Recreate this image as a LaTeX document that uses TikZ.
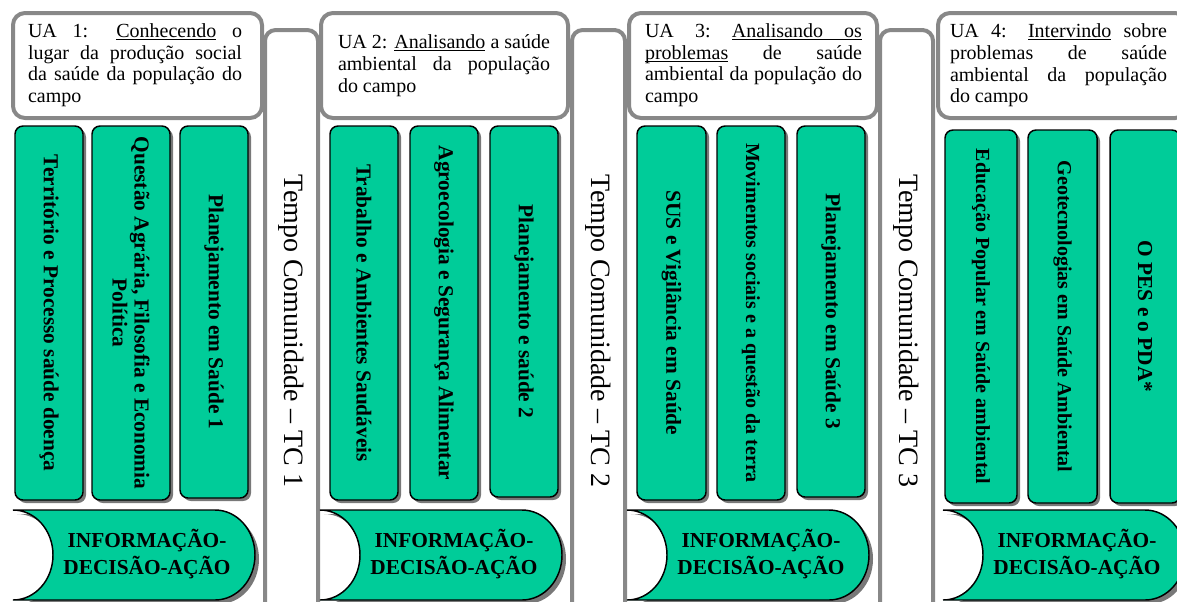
\documentclass[tikz,border=0pt]{standalone}
\usepackage{fontspec}
\setmainfont{Liberation Serif}
\definecolor{tealgreen}{RGB}{0,204,153}
\definecolor{framegray}{RGB}{136,136,136}
\definecolor{shadowgray}{RGB}{120,120,120}
\tikzset{
  uabox/.style={draw=framegray, line width=3pt, fill=white, rounded corners=9pt},
  tccol/.style={draw=framegray, line width=3pt, fill=white, rounded corners=8pt},
  uatext/.style={inner sep=0pt, align=left, font=\fontsize{15}{16.3}\selectfont},
  tctext/.style={inner sep=0pt, rotate=-90, font=\fontsize{21}{24}\selectfont},
  gcol/.style={draw=black, line width=1.1pt, fill=tealgreen, rounded corners=6pt, inner sep=0pt, align=center, rotate=-90},
  gshadow/.style={fill=shadowgray, rounded corners=6pt},
  bannershape/.style={draw=black, line width=1.1pt, fill=tealgreen},
  bannertext/.style={inner sep=0pt, align=center, font=\bfseries\fontsize{16}{20}\selectfont},
}
\newcommand{\undl}[1]{\underline{\smash{#1}}}
\newcommand{\greencol}[7][16]{%
  \pgfmathsetmacro\mycolw{(#4-#3)*0.75}%
  \pgfmathsetmacro\mycolh{(#6-#5)*0.75}%
  \fill[gshadow] ({#3+3},{#5+3}) rectangle ({#4+3},{#6+3});
  \node[gcol, minimum width=\mycolh pt, minimum height=\mycolw pt, font=\bfseries\fontsize{#1}{16.5}\selectfont] (#2) at ({(#3+#4)/2},{(#5+#6)/2}) {#7};
}
\newcommand{\drawbanner}[2]{%
  \fill[shadowgray, shift={(4,4)}] (#1,510) -- ({#1+202},510) .. controls ({#1+224},510) and ({#1+242},530) .. ({#1+242},555) .. controls ({#1+242},580) and ({#1+224},600) .. ({#1+202},600) -- (#1,600) .. controls ({#1+22},600) and ({#1+40},580) .. ({#1+40},555) .. controls ({#1+40},530) and ({#1+22},510) .. (#1,510) -- cycle;
  \draw[bannershape] (#1,510) -- ({#1+202},510) .. controls ({#1+224},510) and ({#1+242},530) .. ({#1+242},555) .. controls ({#1+242},580) and ({#1+224},600) .. ({#1+202},600) -- (#1,600) .. controls ({#1+22},600) and ({#1+40},580) .. ({#1+40},555) .. controls ({#1+40},530) and ({#1+22},510) .. (#1,510) -- cycle;
  \node[bannertext] (#2) at ({#1+134},554) {INFORMAÇÃO-\\DECISÃO-AÇÃO};
}
\begin{document}
\begin{tikzpicture}[x=0.75pt,y=-0.75pt]
\useasboundingbox (0,0) rectangle (1177,601);
\clip (0,0) rectangle (1177,601);
\fill[white] (0,0) rectangle (1177,601);

% Tempo Comunidade columns
\draw[tccol] (265,30) rectangle (318,650);
\node[tctext] (tc1) at (291.5,331) {Tempo Comunidade – TC 1};
\draw[tccol] (572,30) rectangle (625,650);
\node[tctext] (tc2) at (598.5,331) {Tempo Comunidade – TC 2};
\draw[tccol] (880,30) rectangle (933,650);
\node[tctext] (tc3) at (906.5,331) {Tempo Comunidade – TC 3};

% UA title boxes
\draw[uabox] (13,13) rectangle (262,118);
\node[uatext] (ua1) at (135,65.5) {\makebox[160.5pt][s]{UA 1: \undl{Conhecendo} o}\\\makebox[160.5pt][s]{lugar da produção social}\\\makebox[160.5pt][s]{da saúde da população do}\\campo};
\draw[uabox] (321,13) rectangle (568,118);
\node[uatext] (ua2) at (444,65.5) {\makebox[159pt][s]{UA 2: \undl{Analisando} a saúde}\\\makebox[159pt][s]{ambiental da população}\\do campo};
\draw[uabox] (629,13) rectangle (877,118);
\node[uatext] (ua3) at (753.5,65.5) {\makebox[162.75pt][s]{UA\hfill 3:\hfill\undl{\makebox[97.5pt][s]{Analisando\hfill os}}}\\\makebox[162.75pt][s]{\undl{problemas} de saúde}\\\makebox[162.75pt][s]{ambiental da população do}\\campo};
\draw[uabox] (938,13) rectangle (1187,118);
\node[uatext] (ua4) at (1058.5,65.5) {\makebox[162.75pt][s]{UA 4: \undl{Intervindo} sobre}\\\makebox[162.75pt][s]{problemas de saúde}\\\makebox[162.75pt][s]{ambiental da população}\\do campo};

% green columns
\greencol{c11}{15}{83}{126}{500}{Território e Processo saúde doença}
\greencol{c12}{92}{170}{126}{500}{Questão Agrária, Filosofia e Economia\\Política}
\greencol{c13}{180}{248}{126}{498}{Planejamento em Saúde 1}
\greencol{c21}{330}{398}{126}{500}{Trabalho e Ambientes Saudáveis}
\greencol{c22}{410}{478}{126}{500}{Agroecologia e Segurança Alimentar}
\greencol{c23}{490}{558}{126}{497}{Planejamento e saúde 2}
\greencol{c31}{637}{706}{126}{500}{SUS e Vigilância em Saúde}
\greencol[15]{c32}{717}{785}{126}{500}{Movimentos sociais e a questão da terra}
\greencol{c33}{797}{865}{126}{497}{Planejamento em Saúde 3}
\greencol[15]{c41}{945}{1017}{130}{503}{Educação Popular em Saúde ambiental}
\greencol[15]{c42}{1028}{1097}{130}{503}{Geotecnologias em Saúde Ambiental}
\greencol{c43}{1110}{1180}{130}{503}{O PES e o PDA*}

% banners
\drawbanner{13}{b1}
\drawbanner{320}{b2}
\drawbanner{627}{b3}
\drawbanner{943}{b4}
\end{tikzpicture}
\end{document}
